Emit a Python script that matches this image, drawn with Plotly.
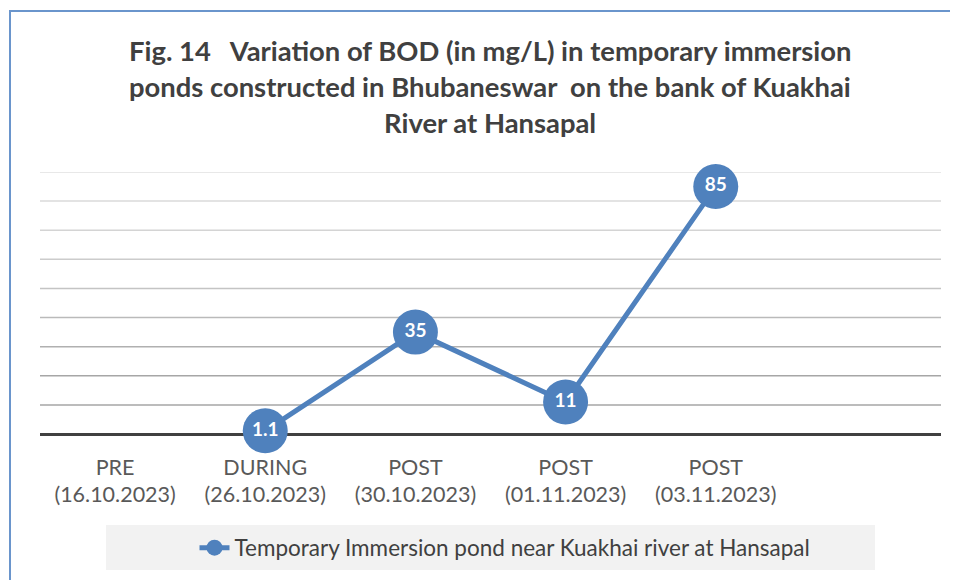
import plotly.graph_objects as go

categories = ["PRE<br>(16.10.2023)", "DURING<br>(26.10.2023)", "POST<br>(30.10.2023)",
              "POST<br>(01.11.2023)", "POST<br>(03.11.2023)"]
bod_values = [None, 1.1, 35, 11, 85]
bod_labels = ["", "1.1", "35", "11", "85"]
series_name = "Temporary Immersion pond near Kuakhai river at Hansapal"
title_lines = ["Fig. 14\u00a0\u00a0 Variation of BOD (in mg/L) in temporary immersion",
               "ponds constructed in Bhubaneswar\u00a0 on the bank of Kuakhai",
               "River at Hansapal"]
grid_values = [10, 20, 30, 40, 50, 60, 70, 80, 90]

BLUE = "#4f81bd"
FONT = "Lato"
W, H = 958, 580
OFF = 8  # page offset of the figure in the window
ML, MR, MT = 40 - OFF, W - (941 - OFF), 172 - OFF
MB = H - (434 - OFF)

fig = go.Figure()
fig.add_trace(go.Scatter(
    x=categories, y=bod_values, name=series_name,
    mode="lines+markers+text", text=bod_labels, textposition="middle center",
    textfont=dict(family=FONT, size=19, color="white", weight="bold"),
    line=dict(color=BLUE, width=5),
    marker=dict(size=45, color=BLUE, line=dict(width=0)),
    cliponaxis=False, connectgaps=False,
))

grid_colors = ["#a6a6a6", "#a6a6a6", "#b0b0b0", "#bababa", "#c4c4c4",
               "#cccccc", "#d4d4d4", "#dadada", "#e0e0e0"]
shapes = []
for v, c in zip(grid_values, grid_colors):
    shapes.append(dict(type="line", xref="paper", yref="y", x0=0, x1=1, y0=v, y1=v,
                       line=dict(color=c, width=1.5), layer="below"))

pw = W - ML - MR
ph = H - MT - MB
def px(xw):
    return (xw - OFF - ML) / pw
def py(yw):
    return (H - MB - (yw - OFF)) / ph

shapes.append(dict(type="rect", xref="paper", yref="paper",
                   x0=px(106), x1=px(875), y0=py(570), y1=py(525),
                   fillcolor="#f2f2f2", line=dict(width=0), layer="below"))
shapes.append(dict(type="rect", xref="paper", yref="paper",
                   x0=px(10), x1=px(990), y0=py(640), y1=py(11),
                   fillcolor="rgba(0,0,0,0)", line=dict(color="#6a95cc", width=2)))

annotations = []
for i, t in enumerate(title_lines):
    annotations.append(dict(text=t, xref="paper", yref="paper", x=px(490), y=py(50 + 36 * i),
                            showarrow=False, xanchor="center", yanchor="middle",
                            font=dict(family=FONT, size=27.4, color="#404040", weight="bold")))

fig.update_layout(
    width=W, height=H, margin=dict(l=ML, r=MR, t=MT, b=MB),
    paper_bgcolor="white", plot_bgcolor="white",
    showlegend=True,
    legend=dict(orientation="h", x=px(505), xanchor="center", y=py(548), yanchor="middle",
                bgcolor="rgba(0,0,0,0)", font=dict(family=FONT, size=22.5, color="#404040")),
    shapes=shapes, annotations=annotations,
    xaxis=dict(type="category", range=[-0.5, 5.5], showgrid=False, zeroline=False,
               showline=False, ticks="", ticklabelstandoff=18,
               tickfont=dict(family=FONT, size=21.5, color="#595959"), fixedrange=True),
    yaxis=dict(range=[0, 90], showgrid=False, showticklabels=False, zeroline=True,
               zerolinecolor="#404040", zerolinewidth=3, fixedrange=True),
)

fig.write_html("out.html")
